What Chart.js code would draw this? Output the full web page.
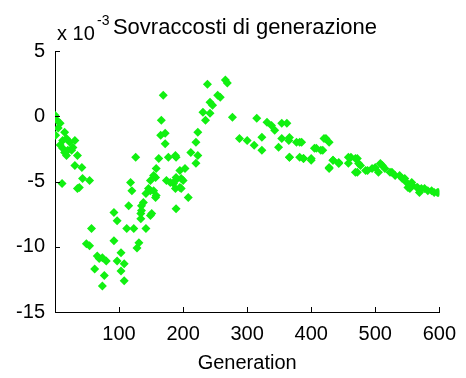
<!DOCTYPE html>
<html>
<head>
<meta charset="utf-8">
<script src="https://cdn.jsdelivr.net/npm/chart.js@4"></script>
<style>
  html, body { margin: 0; padding: 0; background: #fff; }
  #wrap { width: 466px; height: 378px; }
</style>
</head>
<body>
<div id="wrap"><canvas id="costChart" width="466" height="378"></canvas></div>
<script>
// Generation index of each sample
const genX = [
  0, 3, 8, 1, 15, 12, 23, 31, 12, 20, 35, 31, 42, 11, 43, 54, 38, 35,
  5, 18, 26, 15, 8, 28, 18,
  57, 49, 54, 66, 74, 80, 69, 62, 77, 74, 92, 103, 97, 108, 103, 108,
  92, 97, 115, 112, 123, 131, 128, 142, 134, 135, 138, 151, 157, 189,
  166, 169, 165, 172, 172, 126, 162, 177, 188, 158, 157, 149, 146, 118, 120, 142, 154, 174, 185, 188,
  203, 154, 188, 197, 180, 197, 149, 158, 135, 134, 149,
  266, 269, 238, 254, 258, 242, 246, 231, 242, 235, 277, 315, 331, 338, 354, 343, 323, 288, 300, 311,
  323, 354, 365, 349, 366, 382, 223, 220, 212, 223, 220, 189, 195, 189, 200, 195, 208,
  382, 423, 405, 415, 388, 400, 434, 443, 462, 472, 477, 458, 428, 472, 488, 500, 511, 505,
  523, 531, 542, 549, 558, 566, 577, 588, 597, 554, 569,
  362, 366, 377, 385, 366, 388, 400, 420, 428, 408, 418, 434, 428, 443, 458, 469, 474, 469,
  485, 495, 508, 515, 526, 538, 546, 557, 565, 572, 582, 592, 599, 551
];
// Generation over-cost, in units of 1e-3
const overCost = [
  0.08, -0.31, -0.54, -1.46, -1.23, -1.85, -2.0, -1.85, -2.46, -2.6, -3.0, -3.77, -3.92, -5.15, -4.77, -4.92, -5.46, -5.54,
  -0.9, -1.7, -2.6, -2.77, -2.2, -2.4, -3.0,
  -8.6, -9.77, -9.92, -10.7, -10.85, -11.1, -10.9, -11.7, -12.2, -13.0, -9.54, -10.46, -11.1, -11.3, -11.85, -12.6,
  -7.38, -8.0, -6.85, -8.6, -8.6, -9.7, -10.1, -8.6, -7.85, -7.23, -6.6, -7.46, -6.23, -7.08,
  -0.31, 1.6, -1.46, -1.3, -2.1, -3.15, -3.23, -3.15, -3.0, -4.0, -4.7, -4.92, -5.54, -5.08, -5.7, -5.92, -5.7, -4.92, -5.15, -5.54,
  -4.0, -4.54, -4.92, -4.77, -5.08, -5.54, -5.7, -6.08, -6.85, -7.46, -7.6,
  2.77, 2.54, 2.46, 1.6, 1.46, 1.08, 0.85, 0.31, 0.23, -0.31, -0.08, -0.15, -0.46, -0.7, -0.54, -1.08, -1.6, -1.7, -1.85, -2.23,
  -2.6, -1.7, -1.85, -2.38, -3.15, -3.15, -1.23, -2.0, -2.77, -3.0, -3.6, -3.15, -4.15, -4.7, -4.92, -5.46, -6.23,
  -2.0, -1.7, -2.46, -2.6, -3.23, -3.38, -3.38, -3.54, -3.15, -3.23, -3.77, -3.6, -4.0, -4.3, -4.15, -3.92, -3.77, -4.3,
  -4.3, -4.54, -4.77, -5.08, -5.3, -5.46, -5.54, -5.7, -5.85, -5.54, -5.85,
  -0.54, -1.62, -2.0, -2.0, -3.15, -3.23, -3.23, -1.7, -2.0, -2.46, -2.6, -3.38, -3.92, -3.62, -3.15, -3.23, -3.62, -4.3,
  -4.15, -4.0, -3.62, -4.0, -4.3, -4.54, -4.77, -5.08, -5.46, -5.54, -5.7, -5.85, -5.85, -5.46
];
const xTicks = [100, 200, 300, 400, 500, 600];
const yTicks = [5, 0, -5, -10, -15];

const points = genX.map((g, i) => ({ x: g, y: overCost[i] }));

// Inward tick marks and the MATLAB-style header text
const matlabDecor = {
  id: 'matlabDecor',
  afterDraw(chart) {
    const ctx = chart.ctx;
    const xs = chart.scales.x;
    const ys = chart.scales.y;
    const area = chart.chartArea;
    ctx.save();
    ctx.strokeStyle = '#000';
    ctx.lineWidth = 1;
    ctx.beginPath();
    xTicks.forEach((t) => {
      const px = Math.round(xs.getPixelForValue(t)) + 0.5;
      ctx.moveTo(px, area.bottom);
      ctx.lineTo(px, area.bottom - 5);
    });
    yTicks.forEach((t) => {
      const py = Math.round(ys.getPixelForValue(t)) + 0.5;
      ctx.moveTo(area.left, py);
      ctx.lineTo(area.left + 5, py);
    });
    ctx.stroke();

    ctx.fillStyle = '#000';
    ctx.textBaseline = 'alphabetic';
    ctx.textAlign = 'left';
    ctx.font = '20px "Liberation Sans", Arial, sans-serif';
    ctx.fillText('x 10', 57, 40);
    ctx.font = '14px "Liberation Sans", Arial, sans-serif';
    ctx.fillText('-3', 97, 25);
    ctx.textAlign = 'center';
    ctx.font = '22px "Liberation Sans", Arial, sans-serif';
    ctx.fillText('Sovraccosti di generazione', 245, 34);
    ctx.restore();
  }
};

const ctxCost = document.getElementById('costChart').getContext('2d');
const costChart = new Chart(ctxCost, {
  type: 'scatter',
  data: {
    datasets: [{
      label: 'Sovraccosti',
      data: points,
      pointStyle: 'rectRot',
      pointRadius: 4.5,
      backgroundColor: '#11f011',
      borderColor: '#11f011',
      borderWidth: 0
    }]
  },
  options: {
    responsive: false,
    animation: false,
    layout: { padding: { top: 51, right: 21, left: 0, bottom: 3 } },
    plugins: {
      legend: { display: false },
      title: { display: false },
      tooltip: { enabled: false }
    },
    scales: {
      x: {
        type: 'linear',
        min: 0,
        max: 600,
        afterFit: (scale) => { scale.height = 63; },
        afterBuildTicks: (scale) => { scale.ticks = xTicks.map((v) => ({ value: v })); },
        grid: { display: true, drawOnChartArea: false, drawTicks: false },
        border: { display: true, color: '#000', width: 1 },
        ticks: {
          color: '#000',
          padding: 10,
          font: { family: '"Liberation Sans", Arial, sans-serif', size: 20 }
        },
        title: {
          display: true,
          text: 'Generation',
          color: '#000',
          padding: { top: 0, bottom: 0 },
          font: { family: '"Liberation Sans", Arial, sans-serif', size: 20 }
        }
      },
      y: {
        type: 'linear',
        min: -15,
        max: 5,
        afterFit: (scale) => { scale.width = 55; },
        afterBuildTicks: (scale) => { scale.ticks = yTicks.map((v) => ({ value: v })); },
        grid: { display: true, drawOnChartArea: false, drawTicks: false },
        border: { display: true, color: '#000', width: 1 },
        ticks: {
          color: '#000',
          padding: 10,
          font: { family: '"Liberation Sans", Arial, sans-serif', size: 20 }
        }
      }
    }
  },
  plugins: [matlabDecor]
});
</script>
</body>
</html>
